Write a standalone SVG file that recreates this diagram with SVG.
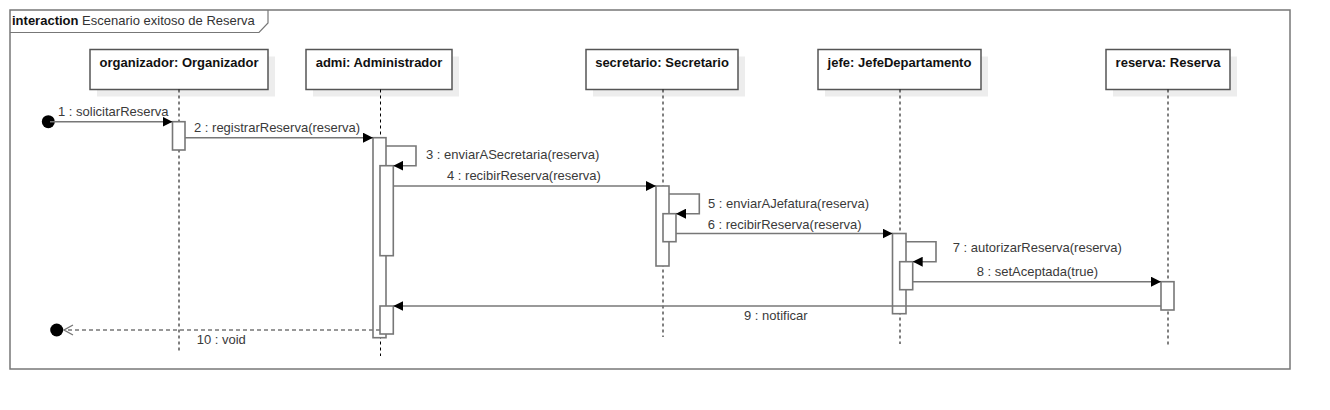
<svg xmlns="http://www.w3.org/2000/svg" width="1330" height="410" viewBox="0 0 1330 410">
<style>
text{font-family:"Liberation Sans",Arial,sans-serif;font-size:13px}
.hdr{font-weight:bold;fill:#111;text-anchor:middle}
.lbl{fill:#3a3a3a}
.box{fill:#fff;stroke:#555;stroke-width:1.5}
.shadow{fill:#ededed}
.life{stroke:#000;stroke-width:1;stroke-dasharray:3,3;fill:none}
.act{fill:#fff;stroke:#777;stroke-width:1.6}
.msg{stroke:#777;stroke-width:1.6;fill:none;marker-end:url(#fa)}
.ret{stroke:#777;stroke-width:1.6;fill:none;stroke-dasharray:4,3}
</style>
<defs>
<marker id="fa" viewBox="0 0 10 10" refX="10" refY="5" markerWidth="10" markerHeight="10" markerUnits="userSpaceOnUse" orient="auto">
<path d="M0,0 L10,5 L0,10 z" fill="#000"/>
</marker>
</defs>
<rect width="1330" height="410" fill="#fff"/>
<g id="frame">
<rect x="10" y="10" width="1280" height="359" fill="none" stroke="#777" stroke-width="1.5"/>
<path d="M10,32.5 H259 L268,23 V10" fill="none" stroke="#777" stroke-width="1.2"/>
<text x="12" y="25" fill="#111"><tspan font-weight="bold">interaction</tspan> <tspan fill="#333">Escenario exitoso de Reserva</tspan></text>
</g>
<g id="organizador">
<rect class="shadow" x="97" y="56.5" width="178" height="40"/>
<rect class="box" x="90" y="49.5" width="178" height="40"/>
<text class="hdr" x="179" y="67">organizador: Organizador</text>
<line class="life" x1="179" y1="89.5" x2="179" y2="351"/>
<rect class="act" x="172.5" y="121.7" width="12.5" height="28.3"/>
</g>
<g id="admi">
<rect class="shadow" x="313" y="56.5" width="146" height="40"/>
<rect class="box" x="306" y="49.5" width="146" height="40"/>
<text class="hdr" x="379" y="67">admi: Administrador</text>
<line class="life" x1="380.5" y1="89.5" x2="380.5" y2="356"/>
<rect class="act" x="373" y="137.7" width="13" height="200"/>
<rect class="act" x="380" y="165.7" width="13.3" height="90"/>
<rect class="act" x="380" y="306" width="13.3" height="28"/>
</g>
<g id="secretario">
<rect class="shadow" x="593" y="56.5" width="152" height="40"/>
<rect class="box" x="586" y="49.5" width="152" height="40"/>
<text class="hdr" x="662" y="67">secretario: Secretario</text>
<line class="life" x1="663" y1="89.5" x2="663" y2="337"/>
<rect class="act" x="656" y="186" width="13" height="80"/>
<rect class="act" x="663" y="213.7" width="13" height="28"/>
</g>
<g id="jefe">
<rect class="shadow" x="825" y="56.5" width="163" height="40"/>
<rect class="box" x="818" y="49.5" width="163" height="40"/>
<text class="hdr" x="899.5" y="67">jefe: JefeDepartamento</text>
<line class="life" x1="900" y1="89.5" x2="900" y2="344"/>
<rect class="act" x="892.5" y="233.5" width="13.5" height="80.2"/>
<rect class="act" x="899.7" y="261.7" width="13" height="28"/>
</g>
<g id="reserva">
<rect class="shadow" x="1113" y="56.5" width="124" height="40"/>
<rect class="box" x="1106" y="49.5" width="124" height="40"/>
<text class="hdr" x="1168" y="67">reserva: Reserva</text>
<line class="life" x1="1168" y1="89.5" x2="1168" y2="345"/>
<rect class="act" x="1161" y="281.7" width="13" height="28.3"/>
</g>
<g id="connectors">
<circle cx="48.3" cy="121.7" r="6.5" fill="#000"/>
<line class="msg" x1="50" y1="121.7" x2="172.5" y2="121.7"/>
<line class="msg" x1="185" y1="137.7" x2="373" y2="137.7"/>
<path class="msg" d="M386,146 H416 V165.7 H393.3"/>
<line class="msg" x1="393.3" y1="186" x2="656" y2="186"/>
<path class="msg" d="M669,194 H699.3 V213.7 H676"/>
<line class="msg" x1="676" y1="233.5" x2="892.5" y2="233.5"/>
<path class="msg" d="M906,241.7 H936 V261.7 H912.7"/>
<line class="msg" x1="912.7" y1="281.7" x2="1161" y2="281.7"/>
<line class="msg" x1="1161" y1="306" x2="393.3" y2="306"/>
<line class="ret" x1="380" y1="330" x2="64" y2="330"/>
<path d="M73,325 L64,330 L73,335" fill="none" stroke="#777" stroke-width="1.4"/>
<circle cx="56.7" cy="330" r="6.5" fill="#000"/>
</g>
<g id="labels">
<text class="lbl" x="58" y="115.5">1 : solicitarReserva</text>
<text class="lbl" x="194" y="131.5">2 : registrarReserva(reserva)</text>
<text class="lbl" x="426" y="159">3 : enviarASecretaria(reserva)</text>
<text class="lbl" x="447" y="180">4 : recibirReserva(reserva)</text>
<text class="lbl" x="708" y="207.5">5 : enviarAJefatura(reserva)</text>
<text class="lbl" x="707.7" y="228.5">6 : recibirReserva(reserva)</text>
<text class="lbl" x="952.7" y="252">7 : autorizarReserva(reserva)</text>
<text class="lbl" x="976.7" y="276">8 : setAceptada(true)</text>
<text class="lbl" x="744" y="319.5">9 : notificar</text>
<text class="lbl" x="196.7" y="344">10 : void</text>
</g>
</svg>
